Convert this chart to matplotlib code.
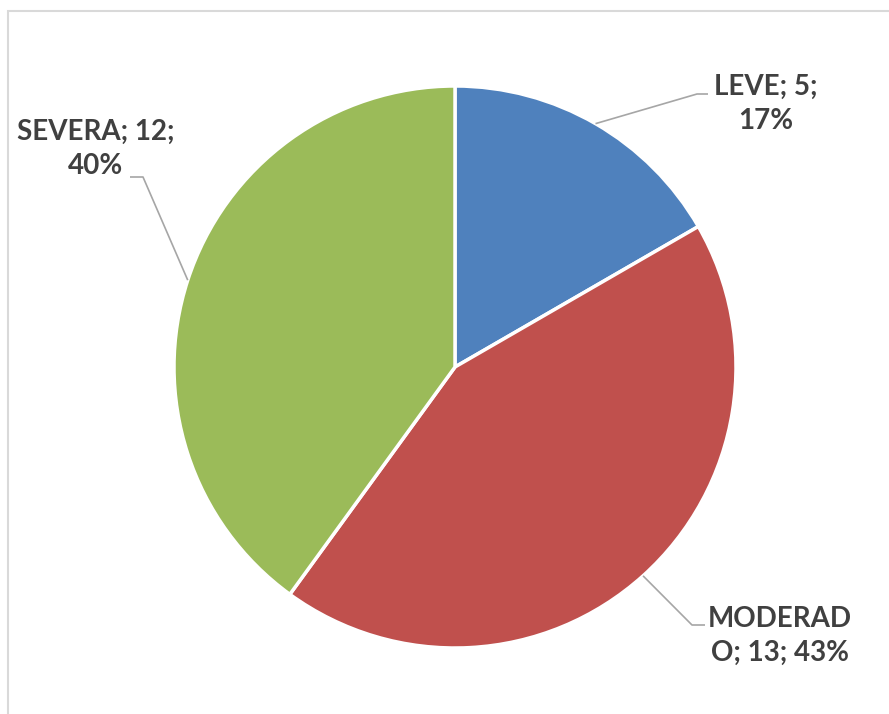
import numpy as np
import matplotlib
matplotlib.use("Agg")
import matplotlib.pyplot as plt
from matplotlib.patches import Rectangle

categories = ["LEVE", "MODERADO", "SEVERA"]
values = [5, 13, 12]
colors = ["#4F81BD", "#C0504D", "#9BBB59"]

W, H = 889, 714
fig = plt.figure(figsize=(W / 100, H / 100), dpi=100)
ax = fig.add_axes([0, 0, 1, 1])

# chart frame
fig.patches.append(Rectangle((8 / W, -0.05), 1.1, 1 - 10.5 / H + 0.05,
                             transform=fig.transFigure, fill=False,
                             edgecolor="#D9D9D9", linewidth=1.5))

cx, cy, r = 455, H - 367, 281
wedges, _ = ax.pie(values, colors=colors, startangle=90, counterclock=False,
                   center=(cx, cy), radius=r,
                   wedgeprops=dict(edgecolor="white", linewidth=2.5))
ax.set_xlim(0, W)
ax.set_ylim(0, H)
ax.set_aspect("equal")
ax.axis("off")

total = sum(values)
pcts = [round(v / total * 100) for v in values]
texts = [f"{c}; {v}; {p}%" for c, v, p in zip(categories, values, pcts)]
# line-break positions as wrapped in the label boxes
breaks = [len("LEVE; 5;"), len("MODERAD"), len("SEVERA; 12;")]
texts = [t[:b].rstrip() + "\n" + t[b:].lstrip() for t, b in zip(texts, breaks)]

# label centres and leader elbow/end points (pixel coords from top-left)
label_pos = [(766, 104), (780, 636), (96, 149)]
elbows = [((697, 94), (708, 94)), ((692, 625), (705, 625)), ((143, 177), (130, 177))]

for w, txt, (lx, ly), (e1, e2) in zip(wedges, texts, label_pos, elbows):
    ang = np.deg2rad((w.theta1 + w.theta2) / 2)
    sx, sy = cx + r * np.cos(ang), cy + r * np.sin(ang)
    xs = [sx, e1[0], e2[0]]
    ys = [sy, H - e1[1], H - e2[1]]
    ax.plot(xs, ys, color="#A6A6A6", linewidth=1.2, solid_capstyle="butt")
    ax.text(lx, H - ly, txt, ha="center", va="center", fontsize=20,
            fontweight="bold", family="Lato", color="#404040",
            linespacing=1.4)

fig.savefig("out.png", dpi=100, facecolor="white")
